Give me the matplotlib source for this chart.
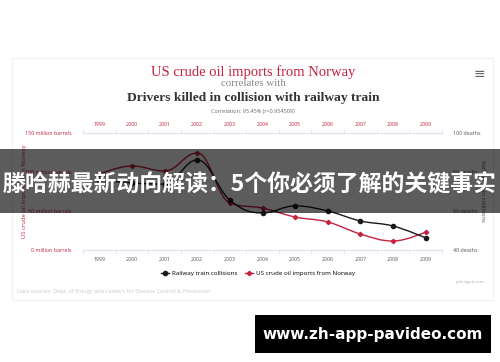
import numpy as np
import matplotlib.pyplot as plt
from matplotlib.path import Path
from matplotlib.patches import PathPatch, Rectangle
from matplotlib.lines import Line2D

# dados (valores aproximados)
years = ["1999", "2000", "2001", "2002", "2003", "2004", "2005", "2006", "2007", "2008", "2009"]
oil_imports = [97.4, 107.7, 101.3, 124.4, 60.3, 53.8, 42.3, 35.9, 20.5, 11.5, 23.1]   # milhoes de barris
train_deaths = [75.9, 74.4, 73.8, 86.2, 65.6, 59.0, 62.6, 60.0, 54.9, 52.3, 46.2]   # mortes

oil_ticks = [0, 50, 100, 150]
death_ticks = [40, 60, 80, 100]

RED = "#c4213f"
BLACK = "#1a1a1a"
W, H = 500, 362


def px(x, y):
    # pixel da imagem -> coordenada de figura
    return x / W, 1 - y / H


def spline_path(xs, ys, smoothing=1.5):
    # curva estilo "spline" (bezier cubica entre os pontos)
    xs = np.asarray(xs, float)
    ys = np.asarray(ys, float)
    n = len(xs)
    den = smoothing + 1
    lc = [None] * n
    rc = [None] * n
    for i in range(1, n - 1):
        lx = (smoothing * xs[i] + xs[i - 1]) / den
        ly = (smoothing * ys[i] + ys[i - 1]) / den
        rx = (smoothing * xs[i] + xs[i + 1]) / den
        ry = (smoothing * ys[i] + ys[i + 1]) / den
        corr = (ry - ly) * (rx - xs[i]) / (rx - lx) + ys[i] - ry
        ly += corr
        ry += corr
        if ly > ys[i - 1] and ly > ys[i]:
            ly = max(ys[i - 1], ys[i]); ry = 2 * ys[i] - ly
        elif ly < ys[i - 1] and ly < ys[i]:
            ly = min(ys[i - 1], ys[i]); ry = 2 * ys[i] - ly
        if ry > ys[i + 1] and ry > ys[i]:
            ry = max(ys[i + 1], ys[i]); ly = 2 * ys[i] - ry
        elif ry < ys[i + 1] and ry < ys[i]:
            ry = min(ys[i + 1], ys[i]); ly = 2 * ys[i] - ry
        lc[i] = (lx, ly)
        rc[i] = (rx, ry)
    lc[-1] = (xs[-1], ys[-1])
    rc[0] = (xs[0], ys[0])
    verts = [(xs[0], ys[0])]
    codes = [Path.MOVETO]
    for i in range(1, n):
        verts += [rc[i - 1], lc[i], (xs[i], ys[i])]
        codes += [Path.CURVE4] * 3
    return Path(verts, codes)


fig = plt.figure(figsize=(5, 3.62), dpi=100)
fig.patch.set_facecolor("white")

# cartao do grafico
x0, y0 = px(12, 300)
fig.add_artist(Rectangle((x0, y0), 481 / W, 242 / H, transform=fig.transFigure,
                         facecolor="white", edgecolor="#f0f0f0", linewidth=0.8, zorder=-1))

left, bottom = px(83, 250)
ax = fig.add_axes([left, bottom, 359 / W, 117 / H])
ax.patch.set_alpha(0)
x = np.arange(len(years))

ax.set_xlim(-0.5, len(years) - 0.5)
ax.set_ylim(0, 150)
ax.add_patch(PathPatch(spline_path(x, oil_imports), fill=False, edgecolor=RED, linewidth=1.0))
ax.plot(x, oil_imports, "D", color=RED, markersize=2.2, zorder=3)

ax2 = ax.twinx()
ax2.set_ylim(40, 100)
ax2.add_patch(PathPatch(spline_path(x, train_deaths), fill=False, edgecolor=BLACK, linewidth=1.0))
ax2.plot(x, train_deaths, "o", color=BLACK, markersize=3, zorder=3)

for a in (ax, ax2):
    for s in ("left", "right"):
        a.spines[s].set_visible(False)
    for s in ("top", "bottom"):
        a.spines[s].set_color("#dde3ee")
        a.spines[s].set_linewidth(0.8)

# eixo x embaixo (cinza) e em cima (vermelho)
ax.set_xticks(x)
ax.set_xticklabels(years, fontsize=3.8, color="#555555", family="Open Sans")
ax.set_xticks(np.arange(-0.5, len(years)), minor=True)
ax.tick_params(axis="x", which="major", length=0, pad=5)
ax.tick_params(axis="x", which="minor", length=3, color="#dde3ee", width=0.6)

top = ax.secondary_xaxis("top")
top.set_xticks(x)
top.set_xticklabels(years, fontsize=3.8, color=RED, family="Open Sans")
top.set_xticks(np.arange(-0.5, len(years)), minor=True)
top.tick_params(axis="x", which="major", length=0, pad=4)
top.tick_params(axis="x", which="minor", length=3, color="#dde3ee", width=0.6)
top.spines["top"].set_visible(False)

ax.set_yticks(oil_ticks)
ax.set_yticklabels([f"{v} million barrels" for v in oil_ticks], fontsize=3.9, color=RED, family="Open Sans")
ax.tick_params(axis="y", length=0, pad=8)
ax2.set_yticks(death_ticks)
ax2.set_yticklabels([f"{v} deaths" for v in death_ticks], fontsize=3.9, color="#555555", family="Open Sans")
ax2.tick_params(axis="y", length=0, pad=8)

fig.text(*px(25, 191), "US crude oil imports from Norway", rotation=90, fontsize=4.2,
         color=RED, ha="center", va="center", family="Open Sans")
fig.text(*px(483, 191), "Railway train collisions", rotation=270, fontsize=4.2,
         color="#555555", ha="center", va="center", family="Open Sans")

# titulos
fig.text(*px(253, 72), "US crude oil imports from Norway", fontsize=10.5, color=RED,
         ha="center", va="center", family="Liberation Serif")
fig.text(*px(253, 84), "correlates with", fontsize=7.8, color="#888888",
         ha="center", va="center", family="Liberation Serif")
fig.text(*px(253, 98), "Drivers killed in collision with railway train", fontsize=9.7,
         color="#333333", fontweight="bold", ha="center", va="center", family="Liberation Serif")
fig.text(*px(253, 112), "Correlation: 95.45% (r=0.954509)", fontsize=4, color="#666666",
         ha="center", va="center", family="Open Sans")
fig.text(*px(479, 74), "≡", fontsize=10, color="#666666", ha="center", va="center")

# legenda
handles = [Line2D([], [], color=BLACK, marker="o", markersize=3, linewidth=1.0),
           Line2D([], [], color=RED, marker="D", markersize=2.2, linewidth=1.0)]
fig.legend(handles, ["Railway train collisions", "US crude oil imports from Norway"],
           loc="center", bbox_to_anchor=px(258, 273), ncol=2, frameon=False,
           prop={"family": "Open Sans", "size": 4.5}, handlelength=1.3,
           handletextpad=0.5, columnspacing=1.2)

fig.text(*px(17, 291), "Data sources: Dept. of Energy and Centers for Disease Control & Prevention",
         fontsize=4, color="#c8c8c8", ha="left", va="center", family="Open Sans")
fig.text(*px(485, 282), "tylervigen.com", fontsize=3, color="#aaaaaa",
         ha="right", va="center", family="Open Sans")

# faixa sobreposta com o titulo em chines
bx, by = px(0, 213)
fig.add_artist(Rectangle((bx, by), 1, 64 / H, transform=fig.transFigure,
                         facecolor="black", alpha=0.64, edgecolor="none", zorder=10))
fig.text(*px(250, 184), "滕哈赫最新动向解读：5个你必须了解的关键事实", fontsize=16.5,
         color="white", fontweight="bold", ha="center", va="center",
         family=["Noto Sans CJK SC", "DejaVu Sans"], zorder=11)

# caixa preta do site
wx, wy = px(255, 353)
fig.add_artist(Rectangle((wx, wy), 236 / W, 38 / H, transform=fig.transFigure,
                         facecolor="black", edgecolor="none", zorder=10))
fig.text(*px(373, 334), "www.zh-app-pavideo.com", fontsize=11, color="white",
         fontweight="bold", ha="center", va="center", family="DejaVu Sans", zorder=11)

fig.savefig("out.png", dpi=100)
